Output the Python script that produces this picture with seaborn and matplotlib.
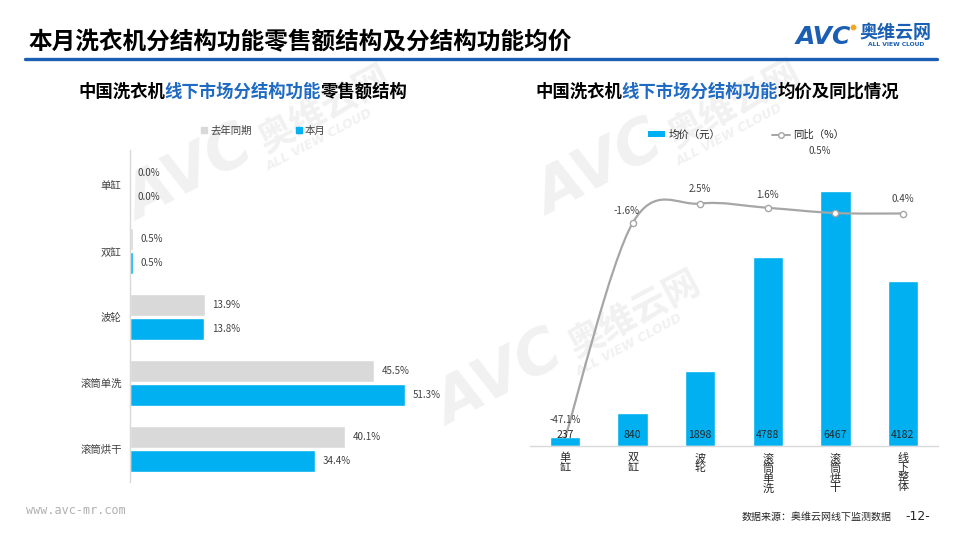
import numpy as np
import pandas as pd
import matplotlib
matplotlib.use('Agg')
import matplotlib.pyplot as plt
import seaborn as sns
from matplotlib.lines import Line2D
from matplotlib.patches import Patch, PathPatch
from matplotlib.path import Path

# ---------------- data ----------------
share_categories = ['单缸', '双缸', '波轮', '滚筒单洗', '滚筒烘干']
share_last_year = [0.0, 0.5, 13.9, 45.5, 40.1]
share_this_month = [0.0, 0.5, 13.8, 51.3, 34.4]
series_names = ['去年同期', '本月']

price_categories = ['单缸', '双缸', '波轮', '滚筒单洗', '滚筒烘干', '线下整体']
avg_price = [237, 840, 1898, 4788, 6467, 4182]
yoy_pct = [-47.1, -1.6, 2.5, 1.6, 0.5, 0.4]
legend_right = ['均价（元）', '同比（%）']

title_text = '本月洗衣机分结构功能零售额结构及分结构功能均价'
sub_left = ['中国洗衣机', '线下市场分结构功能', '零售额结构']
sub_right = ['中国洗衣机', '线下市场分结构功能', '均价及同比情况']

# ---------------- style ----------------
sns.set_theme(style='white')
plt.rcParams['font.family'] = ['Noto Sans CJK SC', 'DejaVu Sans']
plt.rcParams['axes.unicode_minus'] = False

GRAY = '#D9D9D9'
BLUE = '#00B0F0'
DARKBLUE = '#1A5FB4'
SUBBLUE = '#1F6BC4'
LINEGRAY = '#A6A6A6'
TXT = '#404040'
WM = '#F1F1F1'

W, H = 960, 540
fig = plt.figure(figsize=(9.6, 5.4), dpi=100)
fig.patch.set_facecolor('white')


def fx(x):
    return x / W


def fy(y):
    return 1 - y / H


# ---------------- watermarks ----------------
for (wx, wy) in [(250, 165), (660, 160), (560, 370)]:
    fig.text(fx(wx - 60), fy(wy + 10), 'AVC', fontsize=44, fontweight='bold', style='italic',
             color=WM, rotation=28, ha='center', va='center', zorder=-5,
             family='DejaVu Sans')
    fig.text(fx(wx + 75), fy(wy - 55), '奥维云网', fontsize=26, fontweight='bold',
             color=WM, rotation=28, ha='center', va='center', zorder=-5)
    fig.text(fx(wx + 70), fy(wy - 25), 'ALL VIEW CLOUD', fontsize=9, fontweight='bold',
             style='italic', color=WM, rotation=28, ha='center', va='center', zorder=-5,
             family='DejaVu Sans')

# ---------------- header ----------------
fig.text(fx(28), fy(42), title_text, fontsize=17, fontweight='bold', color='black',
         ha='left', va='center')
fig.add_artist(Line2D([fx(25), fx(937)], [fy(59), fy(59)], color=DARKBLUE, lw=2.4))
fig.text(fx(823), fy(37), 'AVC', fontsize=18, fontweight='bold', style='italic',
         color=DARKBLUE, ha='center', va='center', family='DejaVu Sans')
fig.add_artist(Line2D([fx(853)], [fy(27)], marker='o', ms=3.2, color='#F5A623', ls=''))
fig.text(fx(895), fy(32), '奥维云网', fontsize=13, fontweight='bold', color=DARKBLUE,
         ha='center', va='center')
fig.text(fx(896), fy(44), 'ALL VIEW CLOUD', fontsize=4.3, fontweight='bold',
         color=DARKBLUE, ha='center', va='center', family='DejaVu Sans')


def two_tone(parts, x0, y, size=12.5):
    cw = size * 100 / 72.0
    x = x0
    for k, p in enumerate(parts):
        fig.text(fx(x), fy(y), p, fontsize=size, fontweight='bold',
                 color=SUBBLUE if k == 1 else 'black', ha='left', va='center')
        x += cw * len(p)


two_tone(sub_left, 78, 92)
two_tone(sub_right, 535, 92)

# ---------------- left chart ----------------
axL = fig.add_axes([fx(130), 58 / H, 322 / W, 332 / H])
axL.set_facecolor('none')
df_share = pd.DataFrame({
    'category': share_categories * 2,
    'share': share_last_year + share_this_month,
    'period': [series_names[0]] * len(share_categories) + [series_names[1]] * len(share_categories),
})
sns.barplot(data=df_share, y='category', x='share', hue='period', orient='h',
            palette=[GRAY, BLUE], saturation=1, width=0.74, gap=0.1, ax=axL, legend=False)
axL.set_xlim(0, 60)
axL.set_ylim(4.5, -0.53)
for cont, vals in zip(axL.containers, [share_last_year, share_this_month]):
    axL.bar_label(cont, labels=[f'{v:.1f}%' for v in vals], padding=5.5, fontsize=7,
                  color=TXT)
axL.xaxis.set_visible(False)
axL.set_ylabel('')
axL.tick_params(axis='y', length=0, pad=6, labelsize=7.5, labelcolor=TXT)
for s in ['top', 'right', 'bottom']:
    axL.spines[s].set_visible(False)
axL.spines['left'].set_color(GRAY)
axL.spines['left'].set_linewidth(1)

fig.legend(handles=[Line2D([0], [0], marker='s', ls='', color=GRAY, ms=4),
                    Line2D([0], [0], marker='s', ls='', color=BLUE, ms=4)],
           labels=series_names, loc='center', bbox_to_anchor=(fx(263), fy(131)), ncol=2,
           frameon=False, fontsize=7.5, handletextpad=0.2, columnspacing=4.2,
           handlelength=0.7, labelcolor=TXT)

# ---------------- right chart ----------------
axR = fig.add_axes([fx(530), 94 / H, 408 / W, 315 / H])
axR.set_facecolor('none')
sns.barplot(x=price_categories, y=avg_price, color=BLUE, saturation=1, width=0.45, ax=axR)
axR.set_xlim(-0.52, 5.52)
axR.set_ylim(0, 8000)
axR.set_xticks(range(len(price_categories)))
axR.set_xticklabels(['\n'.join(c) for c in price_categories], fontsize=8,
                    linespacing=0.95, color='#262626')
axR.tick_params(axis='x', length=0, pad=5)
axR.yaxis.set_visible(False)
axR.set_ylabel('')
for s in ['top', 'right', 'left']:
    axR.spines[s].set_visible(False)
axR.spines['bottom'].set_color(GRAY)
axR.spines['bottom'].set_linewidth(1)

axR2 = axR.twinx()
axR2.set_ylim(-48.8, 17.86)
axR2.yaxis.set_visible(False)
for s in axR2.spines.values():
    s.set_visible(False)

# smooth (Excel-like) curve through the yoy points
xs = np.arange(len(yoy_pct), dtype=float)
ys = np.array(yoy_pct, dtype=float)
pts = np.column_stack([xs, ys])
verts = [tuple(pts[0])]
codes = [Path.MOVETO]
n = len(pts)
for i in range(n - 1):
    p0 = pts[i - 1] if i > 0 else pts[i]
    p1 = pts[i]
    p2 = pts[i + 1]
    p3 = pts[i + 2] if i + 2 < n else pts[i + 1]
    c1 = p1 + (p2 - p0) / 6.0
    c2 = p2 - (p3 - p1) / 6.0
    verts += [tuple(c1), tuple(c2), tuple(p2)]
    codes += [Path.CURVE4] * 3
axR2.add_patch(PathPatch(Path(verts, codes), facecolor='none', edgecolor=LINEGRAY,
                         lw=1.6, zorder=3))
sns.scatterplot(x=xs[1:], y=ys[1:], ax=axR2, marker='o', s=20, color='white',
                edgecolor=LINEGRAY, linewidth=1, zorder=4)
axR2.set_xlim(-0.52, 5.52)

# bar value labels (drawn above the line, as in the reference)
for i, v in enumerate(avg_price):
    axR2.annotate(str(v), xy=(i, 0), xycoords=axR.transData, xytext=(0, 11),
                  textcoords='offset pixels', ha='center', va='center', fontsize=7.5,
                  color='#262626', zorder=7)

label_offsets = [(0, 18), (-6, 12), (0, 15), (0, 13), (-16, 62), (0, 15)]
for i, (v, off) in enumerate(zip(yoy_pct, label_offsets)):
    axR2.annotate(f'{v:.1f}%', xy=(i, v), xytext=off, textcoords='offset pixels',
                  ha='center', va='center', fontsize=7, color=TXT, zorder=6)

fig.legend(handles=[Patch(facecolor=BLUE, edgecolor='none'),
                    Line2D([0], [0], color=LINEGRAY, lw=1.4, marker='o', mfc='white',
                           mec=LINEGRAY, ms=4)],
           labels=legend_right, loc='center', bbox_to_anchor=(fx(746), fy(135)), ncol=2,
           frameon=False, fontsize=7.5, handletextpad=0.3, columnspacing=5.0,
           handlelength=1.7, handleheight=0.5, labelcolor='#262626')

# ---------------- footer ----------------
fig.text(fx(26), fy(511), 'www.avc-mr.com', fontsize=8.5, color='#B0B0B0',
         family='DejaVu Sans Mono', ha='left', va='center')
fig.text(fx(892), fy(517), '数据来源：奥维云网线下监测数据', fontsize=7.2, color='#262626',
         ha='right', va='center')
fig.text(fx(918), fy(517), '-12-', fontsize=9, color='#262626', ha='center', va='center',
         family='DejaVu Sans')

fig.savefig('out.png', dpi=100, facecolor='white')
